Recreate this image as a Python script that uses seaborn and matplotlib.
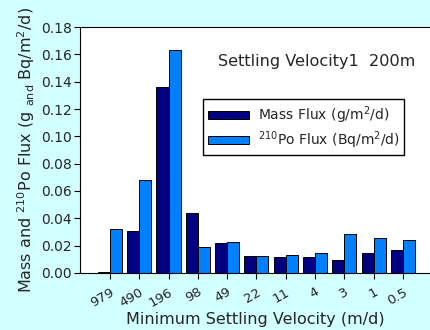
import pandas as pd
import matplotlib
matplotlib.use('Agg')
import matplotlib.pyplot as plt
import seaborn as sns

# Data
velocities = ['979', '490', '196', '98', '49', '22', '11', '4', '3', '1', '0.5']
mass_flux = [0.001, 0.031, 0.136, 0.044, 0.022, 0.0127, 0.0117, 0.0117, 0.0097, 0.0146, 0.0168]
po_flux = [0.032, 0.068, 0.163, 0.0188, 0.0227, 0.0124, 0.013, 0.0144, 0.0283, 0.0254, 0.0242]
series_names = ['Mass Flux (g/m$^2$/d)', '$^{210}$Po Flux (Bq/m$^2$/d)']

df = pd.DataFrame({
    'velocity': velocities * 2,
    'flux': mass_flux + po_flux,
    'series': [series_names[0]] * len(velocities) + [series_names[1]] * len(velocities),
})

sns.set_style('white')
plt.rcParams['font.family'] = ['DejaVu Sans']

fig = plt.figure(figsize=(4.3, 3.3), dpi=100, facecolor='#d2ffff')
ax = fig.add_axes([0.186, 0.173, 0.814, 0.745])
ax.set_facecolor('white')

sns.barplot(data=df, x='velocity', y='flux', hue='series', order=velocities,
            palette=['#000080', '#0080ff'], saturation=1, width=0.82,
            edgecolor='black', linewidth=0.7, ax=ax)

ax.set_xlim(-1.02, 10.92)
ax.set_ylim(0, 0.18)
ax.set_yticks([0, 0.02, 0.04, 0.06, 0.08, 0.10, 0.12, 0.14, 0.16, 0.18])
ax.set_yticklabels([f'{v:.2f}' for v in ax.get_yticks()], fontsize=10)
ax.set_xticks(range(len(velocities)))
ax.set_xticklabels(velocities, rotation=30, fontsize=9.5, ha='right',
                   rotation_mode='anchor')
ax.tick_params(axis='both', direction='out', length=4, width=0.8, color='black',
               bottom=True, left=True, pad=2)
ax.tick_params(axis='x', pad=5)

for side in ['left', 'bottom', 'top']:
    ax.spines[side].set_color('black')
    ax.spines[side].set_linewidth(0.8)
ax.spines['right'].set_visible(False)

ax.set_xlabel('Minimum Settling Velocity (m/d)', fontsize=11.5, labelpad=2)
ax.set_ylabel('Mass and $^{210}$Po Flux (g $_{\\mathrm{and}}$ Bq/m$^2$/d)', fontsize=11.5, labelpad=3)

ax.text(0.394, 0.858, 'Settling Velocity1  200m', transform=ax.transAxes,
        fontsize=11.6, va='center')

handles, labels = ax.get_legend_handles_labels()
ax.legend(handles, labels, loc='upper left', bbox_to_anchor=(0.351, 0.707), fontsize=10,
          frameon=True, fancybox=False, edgecolor='black', framealpha=1,
          handlelength=3.0, handleheight=0.5, borderpad=0.35, labelspacing=0.25,
          handletextpad=0.6, borderaxespad=0)

fig.savefig('out.png', dpi=100, facecolor=fig.get_facecolor())
